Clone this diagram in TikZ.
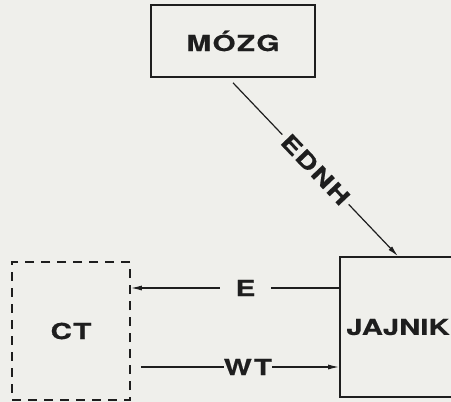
\documentclass[tikz,border=0pt]{standalone}
\usepackage{fontspec}
\newfontfamily\diagfont[FakeStretch=1.35,FakeBold=0.5,LetterSpace=6]{TeX Gyre Heros}
\newfontfamily\tightfont[FakeStretch=1.33,FakeBold=0.5]{TeX Gyre Heros}
\usetikzlibrary{arrows.meta,positioning,calc}
\definecolor{paper}{HTML}{EFEFEB}
\definecolor{ink}{HTML}{1E1E1E}

\begin{document}
\begin{tikzpicture}[
  x=1pt,y=-1pt,
  organ/.style={
    draw=ink,line width=1.6pt,fill=none,
    inner sep=0pt,text=ink,
    font=\diagfont\bfseries\fontsize{22}{26}\selectfont
  },
  outside/.style={organ,dash pattern=on 9pt off 7pt},
  signal/.style={text=ink,fill=paper,inner ysep=1pt,
    font=\diagfont\bfseries\fontsize{22}{26}\selectfont},
  arrow/.style={-{Latex[length=11pt,width=5pt]},draw=ink,line width=1.2pt}
]
\fill[paper] (0,0) rectangle (451,402);
\useasboundingbox (0,0) rectangle (451,402);

\node[organ,minimum width=164pt,minimum height=72pt] (mozg) at (233,41) {MÓZG};
\node[organ,minimum width=116pt,minimum height=140pt,
  font=\tightfont\bfseries\fontsize{22}{26}\selectfont] (jajnik) at (398,327) {JAJNIK};
\node[outside,minimum width=118pt,minimum height=138pt] (ct) at (71,331) {CT};

\draw[arrow] ([yshift=-5pt]mozg.south) -- (jajnik.north)
  node[signal,midway,sloped,inner xsep=4pt] {EDNH};
\draw[arrow] ([yshift=39pt]jajnik.west) -- ([yshift=43pt]ct.east)
  node[signal,pos=0.45,inner xsep=16pt] {E};
\draw[arrow] ([xshift=10pt,yshift=-36pt]ct.east) -- ([yshift=-40pt]jajnik.west)
  node[signal,pos=0.54,inner xsep=0pt] {WT};

\end{tikzpicture}
\end{document}
